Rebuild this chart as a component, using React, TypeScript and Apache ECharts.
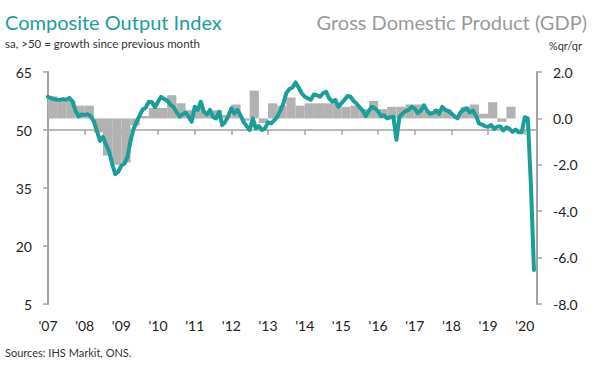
import React, { useEffect, useRef } from 'react';
import * as echarts from 'echarts';

// Year tick labels (one per January, 2007..2020)
const yearLabels = ["'07", "'08", "'09", "'10", "'11", "'12", "'13", "'14", "'15", "'16", "'17", "'18", "'19", "'20"];

// Composite Output Index, monthly (sa, >50 = growth), Jan 2007 .. Apr 2020
const pmi2007 = [58.6, 58.2, 58.0, 57.8, 57.8, 58.0, 57.8, 58.3, 57.4, 55.0, 53.5, 54.0];
const pmi2008 = [53.9, 54.1, 53.5, 52.2, 49.8, 47.2, 48.2, 46.2, 44.5, 41.2, 38.6, 39.2];
const pmi2009 = [40.8, 41.3, 43.0, 47.2, 50.3, 52.1, 53.8, 55.3, 55.8, 57.3, 57.2, 55.9];
const pmi2010 = [57.3, 58.6, 58.0, 57.6, 56.6, 56.0, 54.7, 53.5, 54.0, 54.5, 53.5, 52.1];
const pmi2011 = [56.0, 55.2, 57.3, 54.7, 54.0, 55.2, 53.4, 53.0, 54.7, 51.3, 52.1, 53.6];
const pmi2012 = [55.6, 54.3, 55.2, 53.8, 52.1, 51.0, 50.0, 53.0, 50.4, 51.0, 50.0, 50.4];
const pmi2013 = [52.0, 51.7, 52.5, 53.4, 55.0, 56.8, 59.6, 60.6, 61.0, 62.3, 61.0, 59.5];
const pmi2014 = [58.6, 58.2, 57.8, 59.2, 59.0, 58.6, 59.5, 59.9, 58.2, 57.3, 57.8, 56.0];
const pmi2015 = [56.9, 57.8, 58.8, 58.6, 57.5, 56.8, 55.8, 55.0, 53.6, 55.0, 56.0, 55.6];
const pmi2016 = [54.8, 53.6, 53.8, 53.0, 53.3, 53.4, 47.5, 53.4, 54.2, 54.9, 55.2, 56.0];
const pmi2017 = [55.5, 54.4, 55.0, 56.4, 55.0, 54.2, 54.4, 55.0, 54.2, 56.0, 55.2, 54.9];
const pmi2018 = [54.3, 53.5, 53.0, 54.6, 55.2, 55.6, 54.5, 55.0, 53.8, 51.7, 51.4, 51.0];
const pmi2019 = [50.8, 51.3, 50.3, 50.9, 50.9, 49.9, 50.7, 50.3, 49.5, 50.1, 49.4, 49.4];
const pmi2020 = [53.3, 53.0, 36.0, 13.8];

// GDP %q/q, quarterly, 2007 Q1 .. 2019 Q4
const gdp2007 = [0.95, 0.75, 0.75, 0.55];
const gdp2008 = [0.55, -0.6, -1.6, -2.0];
const gdp2009 = [-1.9, -0.3, 0.1, 0.45];
const gdp2010 = [0.45, 1.0, 0.65, 0.35];
const gdp2011 = [0.5, 0.2, 0.35, 0.15];
const gdp2012 = [0.6, -0.1, 1.2, -0.2];
const gdp2013 = [0.65, 0.55, 0.9, 0.55];
const gdp2014 = [0.65, 0.65, 0.65, 0.65];
const gdp2015 = [0.5, 0.55, 0.4, 0.75];
const gdp2016 = [0.4, 0.5, 0.5, 0.6];
const gdp2017 = [0.6, 0.3, 0.4, 0.4];
const gdp2018 = [0.1, 0.5, 0.6, 0.2];
const gdp2019 = [0.7, -0.15, 0.5, 0.0];

const pmi = [
  ...pmi2007, ...pmi2008, ...pmi2009, ...pmi2010, ...pmi2011, ...pmi2012, ...pmi2013,
  ...pmi2014, ...pmi2015, ...pmi2016, ...pmi2017, ...pmi2018, ...pmi2019, ...pmi2020,
];
const gdp = [
  ...gdp2007, ...gdp2008, ...gdp2009, ...gdp2010, ...gdp2011, ...gdp2012, ...gdp2013,
  ...gdp2014, ...gdp2015, ...gdp2016, ...gdp2017, ...gdp2018, ...gdp2019,
];

const PMI_NEUTRAL = 50;
const TEAL = '#1a9e98';
const GREY_BAR = '#b2b2b2';
const AXIS = '#a3a3a3';
const FONT = 'Lato';

export default function App() {
  const ref = useRef<HTMLDivElement>(null);

  useEffect(() => {
    document.body.style.margin = '0';
    if (!ref.current) return;
    const chart = echarts.init(ref.current, undefined, { renderer: 'svg' });

    const option: any = {
      animation: false,
      backgroundColor: '#ffffff',
      textStyle: { fontFamily: FONT },
      grid: { left: 48, right: 63, top: 72, bottom: 61 },
      xAxis: [
        {
          type: 'value', min: 0, max: 160, interval: 12, position: 'bottom',
          axisLine: { show: true, onZero: true, onZeroAxisIndex: 0, lineStyle: { color: AXIS, width: 1.5 } },
          axisTick: { show: true, length: 5, lineStyle: { color: AXIS, width: 1.5 } },
          axisLabel: { show: false },
          splitLine: { show: false },
        },
        {
          type: 'value', min: 0, max: 160, interval: 12, position: 'bottom',
          axisLine: { show: false }, axisTick: { show: false }, splitLine: { show: false },
          axisLabel: {
            margin: 14, fontSize: 14, color: '#222', fontFamily: FONT, showMaxLabel: false,
            formatter: (v: number) => (v % 12 === 0 && yearLabels[v / 12] !== undefined ? yearLabels[v / 12] : ''),
          },
        },
      ],
      yAxis: [
        {
          type: 'value', min: 5 - PMI_NEUTRAL, max: 65 - PMI_NEUTRAL, interval: 15, position: 'left',
          axisLine: { show: true, onZero: false, lineStyle: { color: AXIS, width: 2 } },
          axisTick: { show: true, length: 5, lineStyle: { color: AXIS, width: 1.5 } },
          axisLabel: { margin: 16, fontSize: 14, color: '#222', fontFamily: FONT, formatter: (v: number) => String(v + PMI_NEUTRAL) },
          splitLine: { show: false },
        },
        {
          type: 'value', min: -8, max: 2, interval: 2, position: 'right',
          axisLine: { show: true, onZero: false, lineStyle: { color: AXIS, width: 2 } },
          axisTick: { show: true, length: 5, lineStyle: { color: AXIS, width: 1.5 } },
          axisLabel: { margin: 16, fontSize: 14, color: '#222', fontFamily: FONT, formatter: (v: number) => v.toFixed(1) },
          splitLine: { show: false },
        },
      ],
      series: [
        {
          type: 'custom',
          name: 'GDP',
          xAxisIndex: 0,
          yAxisIndex: 1,
          z: 1,
          data: gdp.map((v, i) => [i * 3, v]),
          renderItem: (params: any, api: any) => {
            const x0 = api.value(0);
            const v = api.value(1);
            const p0 = api.coord([x0, 0]);
            const p1 = api.coord([x0 + 3, v]);
            return {
              type: 'rect',
              shape: {
                x: p0[0],
                y: Math.min(p0[1], p1[1]),
                width: p1[0] - p0[0],
                height: Math.abs(p1[1] - p0[1]),
              },
              style: { fill: GREY_BAR },
            };
          },
        },
        {
          type: 'line',
          name: 'Composite Output Index',
          xAxisIndex: 0,
          yAxisIndex: 0,
          z: 3,
          symbol: 'none',
          showSymbol: false,
          data: pmi.map((v, i) => [i, v - PMI_NEUTRAL]),
          lineStyle: { color: TEAL, width: 4, join: 'round', cap: 'round' },
        },
      ],
      graphic: [
        { type: 'text', x: 5, y: 22, style: { text: 'Composite Output Index', fill: TEAL, font: `20px ${FONT}`, verticalAlign: 'middle', align: 'left' } },
        { type: 'text', x: 5, y: 43, style: { text: 'sa, >50 = growth since previous month', fill: '#333', font: `11.5px ${FONT}`, verticalAlign: 'middle', align: 'left' } },
        { type: 'text', x: 587, y: 22, style: { text: 'Gross Domestic Product (GDP)', fill: '#9a9a9a', font: `20px ${FONT}`, verticalAlign: 'middle', align: 'right' } },
        { type: 'text', x: 582, y: 45, style: { text: '%qr/qr', fill: '#333', font: `11px ${FONT}`, verticalAlign: 'middle', align: 'right' } },
        { type: 'text', x: 5, y: 352, style: { text: 'Sources: IHS Markit, ONS.', fill: '#333', font: `11px ${FONT}`, verticalAlign: 'middle', align: 'left' } },
      ],
    };

    chart.setOption(option);
    return () => chart.dispose();
  }, []);

  return <div ref={ref} style={{ width: 600, height: 365 }} />;
}
